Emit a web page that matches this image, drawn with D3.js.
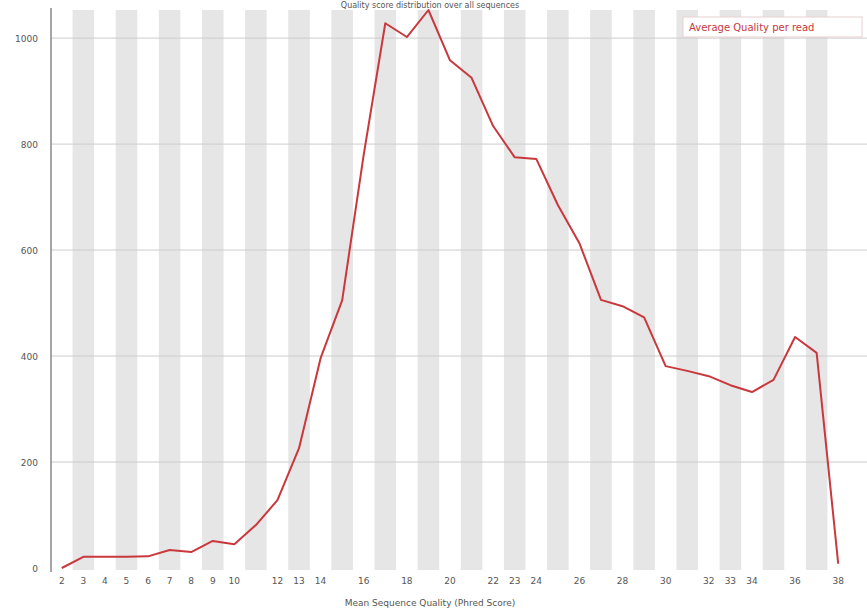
<!DOCTYPE html>
<html>
  <head>
    <meta charset="utf-8">
    <title>Quality score distribution</title>
    <style>
      body { margin: 0; background: #fff; }
      text { font-family: 'DejaVu Sans', sans-serif; }
    </style>
  </head>
  <body>
    <div><svg id='chart'/></div>
  </body>
  <script type="text/javascript" src="https://cdn.jsdelivr.net/npm/d3@7/dist/d3.min.js"></script>
  <script type="text/javascript">
    // phred score categories 2..38
    const categories = ['2','3','4','5','6','7','8','9','10','11','12','13','14','15','16','17','18','19','20',
      '21','22','23','24','25','26','27','28','29','30','31','32','33','34','35','36','37','38'];
    // reads per mean quality
    const counts = [0, 21, 21, 21, 22, 34, 30, 51, 45, 81, 128, 226, 396, 505, 780, 1028, 1002, 1053, 958,
      925, 834, 775, 772, 685, 613, 506, 494, 473, 381, 372, 362, 345, 332, 355, 436, 406, 8];
    // labels that actually get drawn under the axis
    const tickLabels = ['2','3','4','5','6','7','8','9','10','12','13','14','16','18','20','22','23','24',
      '26','28','30','32','33','34','36','38'];
    const yTicks = [0, 200, 400, 600, 800, 1000];

    const [width, height] = [867, 611];
    const svg = d3.select('#chart')
      .attr('width', width)
      .attr('height', height);

    const x = d3.scaleBand()
      .domain(categories)
      .range([51, 849])
      .padding(0);

    const y = d3.scaleLinear()
      .domain([0, d3.max(counts)])
      .range([568, 10]);

    // title squeezed into the top strip
    svg.append('text')
      .attr('x', 430)
      .attr('y', 8)
      .attr('text-anchor', 'middle')
      .style('font-size', '8px')
      .attr('fill', '#555')
      .text('Quality score distribution over all sequences');

    // alternating bands
    svg.append('g')
      .selectAll('rect')
      .data(categories.filter((d, i) => i % 2 === 1))
      .enter()
      .append('rect')
      .attr('x', d => x(d))
      .attr('y', 10)
      .attr('width', x.bandwidth())
      .attr('height', 560)
      .attr('fill', '#e6e6e6');

    // horizontal grid
    svg.append('g')
      .selectAll('line')
      .data(yTicks.filter(d => d > 0))
      .enter()
      .append('line')
      .attr('x1', 51)
      .attr('x2', width)
      .attr('y1', d => y(d))
      .attr('y2', d => y(d))
      .attr('stroke', '#cccccc')
      .attr('stroke-width', 1);

    // y axis
    svg.append('line')
      .attr('x1', 51).attr('x2', 51)
      .attr('y1', 8).attr('y2', 572)
      .attr('stroke', '#888')
      .attr('stroke-width', 1.5);

    svg.append('g')
      .selectAll('text')
      .data(yTicks)
      .enter()
      .append('text')
      .attr('x', 38)
      .attr('y', d => y(d) + 4)
      .attr('text-anchor', 'end')
      .style('font-size', '9px')
      .attr('fill', '#555')
      .text(d => d);

    // x tick labels
    svg.append('g')
      .selectAll('text')
      .data(tickLabels)
      .enter()
      .append('text')
      .attr('x', d => x(d) + x.bandwidth() / 2)
      .attr('y', 584)
      .attr('text-anchor', 'middle')
      .style('font-size', '9px')
      .attr('fill', '#555')
      .text(d => d);

    svg.append('text')
      .attr('x', 430)
      .attr('y', 606)
      .attr('text-anchor', 'middle')
      .style('font-size', '9px')
      .attr('fill', '#555')
      .text('Mean Sequence Quality (Phred Score)');

    // the line
    const line = d3.line()
      .x((d, i) => x(categories[i]) + x.bandwidth() / 2)
      .y(d => y(d));

    svg.append('path')
      .datum(counts)
      .attr('d', line)
      .attr('fill', 'none')
      .attr('stroke', '#c9383c')
      .attr('stroke-width', 2)
      .attr('stroke-linejoin', 'round');

    // legend
    const legend = svg.append('g')
      .attr('transform', 'translate(683, 17)');
    legend.append('rect')
      .attr('width', 179)
      .attr('height', 20)
      .attr('fill', '#fff')
      .attr('stroke', '#e8d0d0');
    legend.append('text')
      .attr('x', 6)
      .attr('y', 14)
      .style('font-size', '10px')
      .attr('fill', '#c9383c')
      .text('Average Quality per read');
  </script>
</html>
